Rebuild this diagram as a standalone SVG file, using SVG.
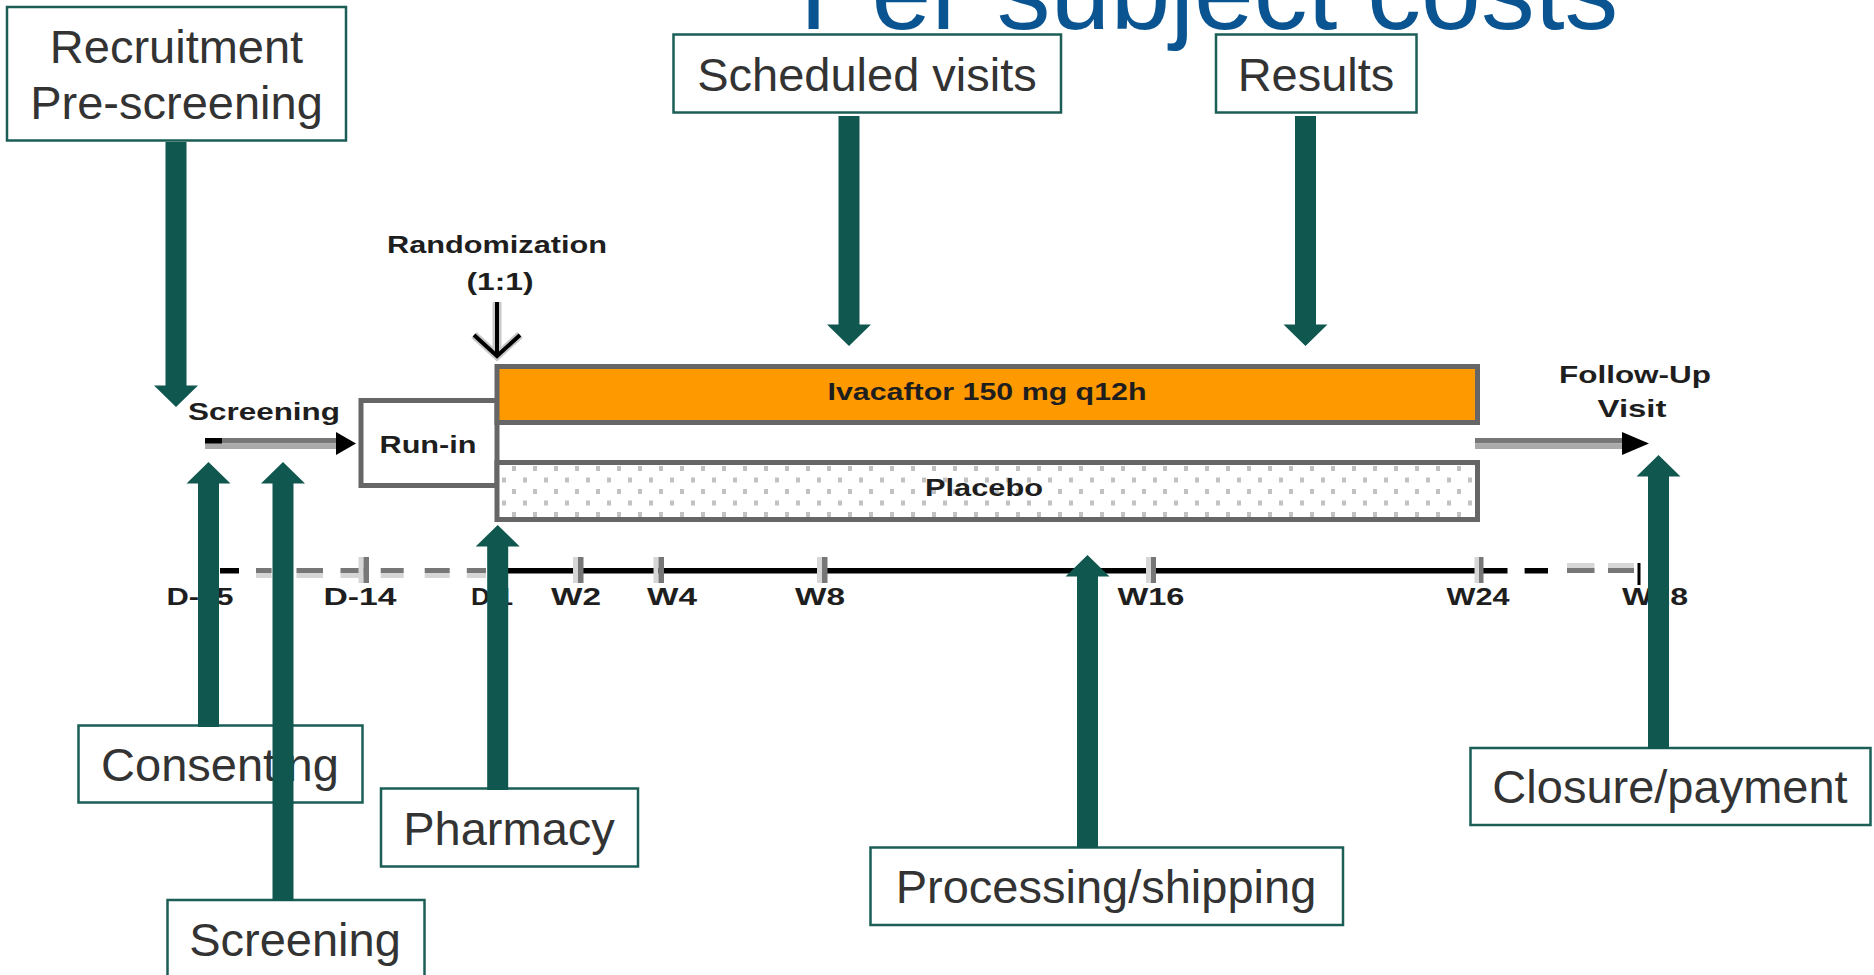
<svg xmlns="http://www.w3.org/2000/svg" width="1874" height="975" viewBox="0 0 1874 975">
<style>
.lbl{font-family:"Liberation Sans",Arial,sans-serif;font-size:47px;fill:#333333;text-anchor:middle}
.box{fill:#ffffff;stroke:#1a5e56;stroke-width:2.5}
.sm{font-family:"Liberation Sans",Arial,sans-serif;font-size:24px;font-weight:bold;fill:#1e1e1e;text-anchor:middle}
.arr{fill:#10574f}
.dk{fill:#777777}
.lt{fill:#d6d6d6}
.bar{stroke:#666666;stroke-width:5}
</style>
<defs>
<pattern id="dots" patternUnits="userSpaceOnUse" x="502" y="466" width="21" height="23">
<rect x="10" y="0" width="4" height="5" fill="#c2c2c2"/>
<rect x="0" y="11.5" width="4" height="5" fill="#c2c2c2"/>
</pattern>
</defs>
<rect width="1874" height="975" fill="#ffffff"/>
<text x="1209" y="29" font-family="Liberation Sans, Arial, sans-serif" font-size="107.5" fill="#0a5591" text-anchor="middle">Per subject costs</text>

<g id="schema">
<text class="sm" x="497" y="253" textLength="220" lengthAdjust="spacingAndGlyphs">Randomization</text>
<text class="sm" x="500" y="290" textLength="67" lengthAdjust="spacingAndGlyphs">(1:1)</text>
<line x1="497" y1="302" x2="497" y2="352" stroke="#c8c8c8" stroke-width="9"/>
<polyline points="474,335 497,356 520,335" fill="none" stroke="#c8c8c8" stroke-width="8"/>
<line x1="497" y1="302" x2="497" y2="354" stroke="#000" stroke-width="4"/>
<polyline points="474,335 497,356 520,335" fill="none" stroke="#000" stroke-width="4"/>

<text class="sm" x="264" y="420" textLength="152" lengthAdjust="spacingAndGlyphs">Screening</text>
<rect x="205" y="438" width="132" height="5.5" class="dk"/>
<rect x="205" y="443.5" width="132" height="5.5" fill="#aaaaaa"/>
<rect x="205" y="438" width="17" height="5.5" fill="#000"/>
<polygon points="336,432 356,443.5 336,455" fill="#000"/>

<rect x="361" y="400.5" width="136" height="85" fill="#fff" class="bar"/>
<text class="sm" x="428" y="453" textLength="97" lengthAdjust="spacingAndGlyphs">Run-in</text>

<rect x="497" y="366.5" width="980.5" height="56" fill="#ff9900" class="bar"/>
<text class="sm" x="987" y="400" textLength="319" lengthAdjust="spacingAndGlyphs">Ivacaftor 150 mg q12h</text>
<rect x="497" y="462.5" width="980.5" height="57" fill="#fff"/>
<rect x="497" y="462.5" width="980.5" height="57" fill="url(#dots)" class="bar"/>
<text class="sm" x="984" y="496" textLength="118" lengthAdjust="spacingAndGlyphs">Placebo</text>

<rect x="1475" y="438" width="147" height="5.5" class="dk"/>
<rect x="1475" y="443.5" width="147" height="5.5" fill="#aaaaaa"/>
<polygon points="1622,432 1649,443.5 1622,455" fill="#000"/>
<text class="sm" x="1635" y="383" textLength="152" lengthAdjust="spacingAndGlyphs">Follow-Up</text>
<text class="sm" x="1632" y="417" textLength="69" lengthAdjust="spacingAndGlyphs">Visit</text>

<g id="timeline">
<rect x="220" y="568" width="19" height="5.5" fill="#000"/>
<rect x="256" y="568" width="15.6" height="5" class="dk"/><rect x="256" y="573" width="15.6" height="5" class="lt"/>
<rect x="296.5" y="568" width="26.5" height="5" class="dk"/><rect x="296.5" y="573" width="26.5" height="5" class="lt"/>
<rect x="340.5" y="568" width="23" height="5" class="dk"/><rect x="340.5" y="573" width="23" height="5" class="lt"/>
<rect x="380.7" y="568" width="23" height="5" class="dk"/><rect x="380.7" y="573" width="23" height="5" class="lt"/>
<rect x="424.7" y="568" width="25" height="5" class="dk"/><rect x="424.7" y="573" width="25" height="5" class="lt"/>
<rect x="466.8" y="568" width="19.2" height="5" class="dk"/><rect x="466.8" y="573" width="19.2" height="5" class="lt"/>
<rect x="497" y="568" width="1010.5" height="5.5" fill="#000"/>
<rect x="1524.6" y="568" width="23.4" height="5.5" fill="#000"/>
<rect x="1567" y="568" width="27.5" height="5" class="dk"/><rect x="1567" y="563" width="27.5" height="5" class="lt"/>
<rect x="1608" y="568" width="26" height="5" class="dk"/><rect x="1608" y="563" width="26" height="5" class="lt"/>
<rect x="1637.5" y="563" width="3" height="22" fill="#000"/>
<rect x="358.5" y="557" width="5" height="26" class="lt"/><rect x="363.5" y="557" width="5.5" height="26" class="dk"/>
<rect x="573" y="557" width="5" height="26" class="lt"/><rect x="578" y="557" width="5.5" height="26" class="dk"/>
<rect x="653.5" y="557" width="5" height="26" class="lt"/><rect x="658.5" y="557" width="5.5" height="26" class="dk"/>
<rect x="817" y="557" width="5" height="26" class="lt"/><rect x="822" y="557" width="5.5" height="26" class="dk"/>
<rect x="1146" y="557" width="5" height="26" class="lt"/><rect x="1151" y="557" width="5" height="26" class="dk"/>
<rect x="1474.5" y="557" width="4.5" height="26" class="lt"/><rect x="1479" y="557" width="4.5" height="26" class="dk"/>
<text class="sm" x="200" y="605" textLength="67" lengthAdjust="spacingAndGlyphs">D-35</text>
<text class="sm" x="360" y="605" textLength="73" lengthAdjust="spacingAndGlyphs">D-14</text>
<text class="sm" x="492" y="605" textLength="42" lengthAdjust="spacingAndGlyphs">D-1</text>
<text class="sm" x="576" y="605" textLength="50" lengthAdjust="spacingAndGlyphs">W2</text>
<text class="sm" x="672" y="605" textLength="50" lengthAdjust="spacingAndGlyphs">W4</text>
<text class="sm" x="820" y="605" textLength="50" lengthAdjust="spacingAndGlyphs">W8</text>
<text class="sm" x="1151" y="605" textLength="67" lengthAdjust="spacingAndGlyphs">W16</text>
<text class="sm" x="1478" y="605" textLength="63" lengthAdjust="spacingAndGlyphs">W24</text>
<text class="sm" x="1655" y="605" textLength="66" lengthAdjust="spacingAndGlyphs">W28</text>
</g>
</g>

<g id="recruitment"><rect class="box" x="7" y="7" width="339" height="133.5"/><text class="lbl" x="176.5" y="63">Recruitment</text><text class="lbl" x="176.5" y="119">Pre-screening</text></g>
<g id="scheduled-visits"><rect class="box" x="673.5" y="34.5" width="387.5" height="78"/><text class="lbl" x="867" y="91">Scheduled visits</text></g>
<g id="results"><rect class="box" x="1216" y="34.5" width="200.5" height="78"/><text class="lbl" x="1316" y="91">Results</text></g>
<g id="consenting"><rect class="box" x="78.5" y="725.5" width="284" height="77"/><text class="lbl" x="220" y="781">Consenting</text></g>
<g id="screening"><rect class="box" x="167.5" y="900" width="257" height="80"/><text class="lbl" x="295" y="956">Screening</text></g>
<g id="pharmacy"><rect class="box" x="381" y="788.5" width="257" height="78"/><text class="lbl" x="509" y="845">Pharmacy</text></g>
<g id="processing-shipping"><rect class="box" x="870.5" y="847.5" width="472.5" height="77.5"/><text class="lbl" x="1106" y="903">Processing/shipping</text></g>
<g id="closure-payment"><rect class="box" x="1470.5" y="748" width="400" height="77"/><text class="lbl" x="1670" y="803">Closure/payment</text></g>

<g id="connectors">
<polygon class="arr" points="165.5,142 186.5,142 186.5,385.5 198,385.5 176,407 154,385.5 165.5,385.5"/>
<polygon class="arr" points="838.5,116 859.5,116 859.5,324.5 871,324.5 849,346 827,324.5 838.5,324.5"/>
<polygon class="arr" points="1295,116 1316,116 1316,324.5 1327.5,324.5 1305.5,346 1283.5,324.5 1295,324.5"/>
<polygon class="arr" points="198,727 219,727 219,483.5 230.5,483.5 208.5,462 186.5,483.5 198,483.5"/>
<polygon class="arr" points="272.5,901 293.5,901 293.5,483.5 305,483.5 283,462 261,483.5 272.5,483.5"/>
<polygon class="arr" points="487.2,790 508.2,790 508.2,546.5 519.7,546.5 497.7,525 475.7,546.5 487.2,546.5"/>
<polygon class="arr" points="1077,848 1098,848 1098,576.5 1109.5,576.5 1087.5,555 1065.5,576.5 1077,576.5"/>
<polygon class="arr" points="1648,749 1669,749 1669,476.5 1680.5,476.5 1658.5,455 1636.5,476.5 1648,476.5"/>
</g>
</svg>
